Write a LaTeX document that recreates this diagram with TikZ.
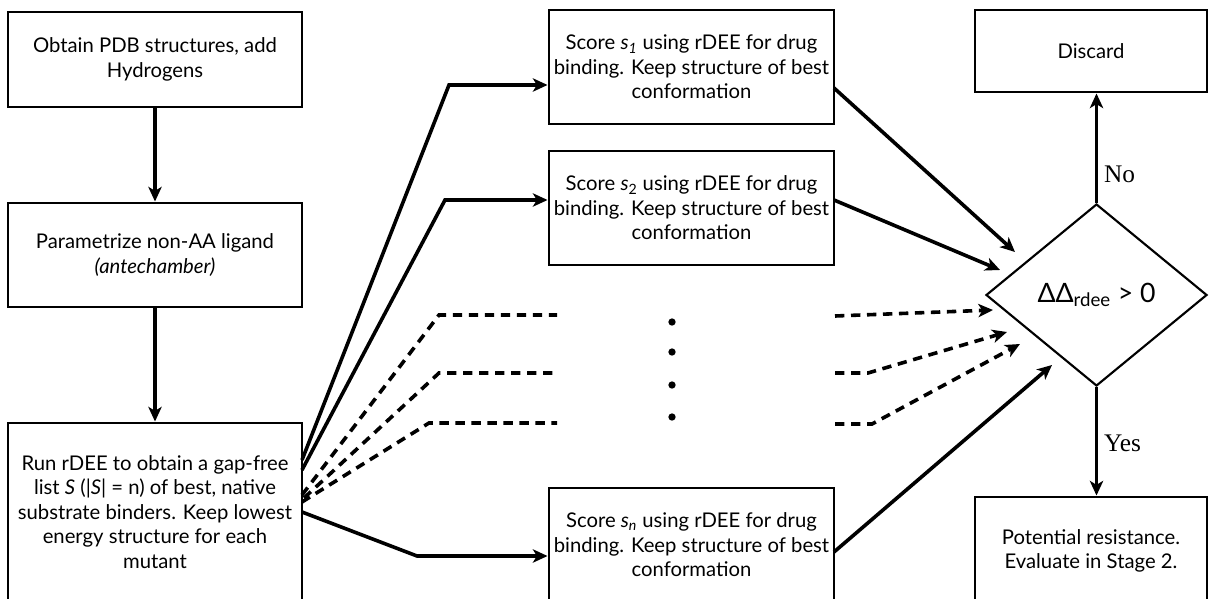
\documentclass[tikz,border=0pt]{standalone}
\usepackage{fontspec}
\setmainfont{Lato}
\newfontfamily\lblfont{Liberation Serif}
\usetikzlibrary{shapes.geometric,arrows.meta}
\tikzset{
  proc/.style={draw=black,line width=2.2pt,align=center,inner sep=0pt,
    font=\fontsize{15.2}{18.4}\selectfont},
  dec/.style={draw=black,line width=1.6pt,shape=diamond,inner sep=0pt,
    minimum width=221*0.75pt,minimum height=182*0.75pt,font=\fontsize{20}{24}\selectfont},
  flow/.style={line width=2.7pt,-{Stealth[length=11pt,width=10pt,inset=3pt]}},
  flowd/.style={flow,dash pattern=on 7pt off 5pt},
  branchd/.style={line width=2.7pt,dash pattern=on 7pt off 5pt},
  lbl/.style={font=\lblfont\fontsize{19}{22}\selectfont},
  dot/.style={circle,fill=black,inner sep=0pt,minimum size=5.5pt}
}
\begin{document}
\begin{tikzpicture}[x=0.75pt,y=-0.75pt]
\useasboundingbox (0,0) rectangle (1210,599);
\clip (0,0) rectangle (1210,599);
% left column
\node[proc,minimum width=294*0.75pt,minimum height=95*0.75pt] (b1) at (155,59.5)
  {Obtain PDB structures, add\\Hydrogens};
\node[proc,minimum width=294*0.75pt,minimum height=104*0.75pt] (b2) at (155,255)
  {Parametrize non-AA ligand\\\textit{(antechamber)}};
\node[proc,minimum width=294*0.75pt,minimum height=178*0.75pt] (b3) at (155,512)
  {Run rDEE to obtain a gap-free\\list \textit{S} (|\textit{S}| = n) of best, native\\substrate binders. Keep lowest\\energy structure for each\\mutant};
% middle column
\node[proc,minimum width=285*0.75pt,minimum height=114*0.75pt] (s1) at (691.5,67)
  {Score \textit{s}\textsubscript{\textit{1}} using rDEE for drug\\binding. Keep structure of best\\conformation};
\node[proc,minimum width=285*0.75pt,minimum height=114*0.75pt] (s2) at (691.5,208)
  {Score \textit{s}\textsubscript{2} using rDEE for drug\\binding. Keep structure of best\\conformation};
\node[proc,minimum width=285*0.75pt,minimum height=114*0.75pt] (sn) at (691.5,545)
  {Score \textit{s}\textsubscript{\textit{n}} using rDEE for drug\\binding. Keep structure of best\\conformation};
\node[dot] (d1) at (672,322) {};
\node[dot] (d2) at (672,352) {};
\node[dot] (d3) at (672,385) {};
\node[dot] (d4) at (672,417) {};
% right column
\node[proc,minimum width=232*0.75pt,minimum height=82*0.75pt] (disc) at (1091,51) {Discard};
\node[proc,minimum width=232*0.75pt,minimum height=108*0.75pt] (pot) at (1091,551)
  {Potential resistance.\\Evaluate in Stage 2.};
\node[dec] (dia) at (1096.5,295) {ΔΔ\textsubscript{rdee} > 0};
% vertical flow
\draw[flow] (b1) -- (b2);
\draw[flow] (b2) -- (b3);
\draw[flow] (dia.north) -- (dia.north |- disc.south) node[lbl,pos=0.26,right=1pt] (no) {No};
\draw[flow] (dia.south) -- (dia.south |- pot.north) node[lbl,pos=0.52,right=1pt] (yes) {Yes};
% branches from b3
\coordinate (o1) at (302,460); \coordinate (e1) at (449,85);
\coordinate (o2) at (302,470); \coordinate (e2) at (445,200);
\coordinate (o3) at (302,512); \coordinate (e3) at (417,556);
\draw[flow] (o1) -- (e1) -- (e1 -| s1.west);
\draw[flow] (o2) -- (e2) -- (e2 -| s2.west);
\draw[flow] (o3) -- (e3) -- (e3 -| sn.west);
\coordinate (od1) at (302,495); \coordinate (ed1) at (439,315); \coordinate (fd1) at (557,315);
\coordinate (od2) at (304,498); \coordinate (ed2) at (439,373); \coordinate (fd2) at (557,373);
\coordinate (od3) at (302,502); \coordinate (ed3) at (429,423); \coordinate (fd3) at (557,423);
\draw[branchd] (od1) -- (ed1) -- (fd1);
\draw[branchd] (od2) -- (ed2) -- (fd2);
\draw[branchd] (od3) -- (ed3) -- (fd3);
% into decision
\coordinate (r1) at (834,88);  \coordinate (t1) at (1015,252);
\coordinate (r2) at (834,200); \coordinate (t2) at (1000,270);
\coordinate (rn) at (834,552); \coordinate (tn) at (1052,365);
\draw[flow] (r1) -- (t1);
\draw[flow] (r2) -- (t2);
\draw[flow] (rn) -- (tn);
\coordinate (q1) at (835,316); \coordinate (u1) at (993,310);
\coordinate (q2) at (835,373); \coordinate (k2) at (868,373); \coordinate (u2) at (1007,332);
\coordinate (q3) at (835,424); \coordinate (k3) at (872,424); \coordinate (u3) at (1020,344);
\draw[flowd] (q1) -- (u1);
\draw[flowd] (q2) -- (k2) -- (u2);
\draw[flowd] (q3) -- (k3) -- (u3);
\end{tikzpicture}
\end{document}
